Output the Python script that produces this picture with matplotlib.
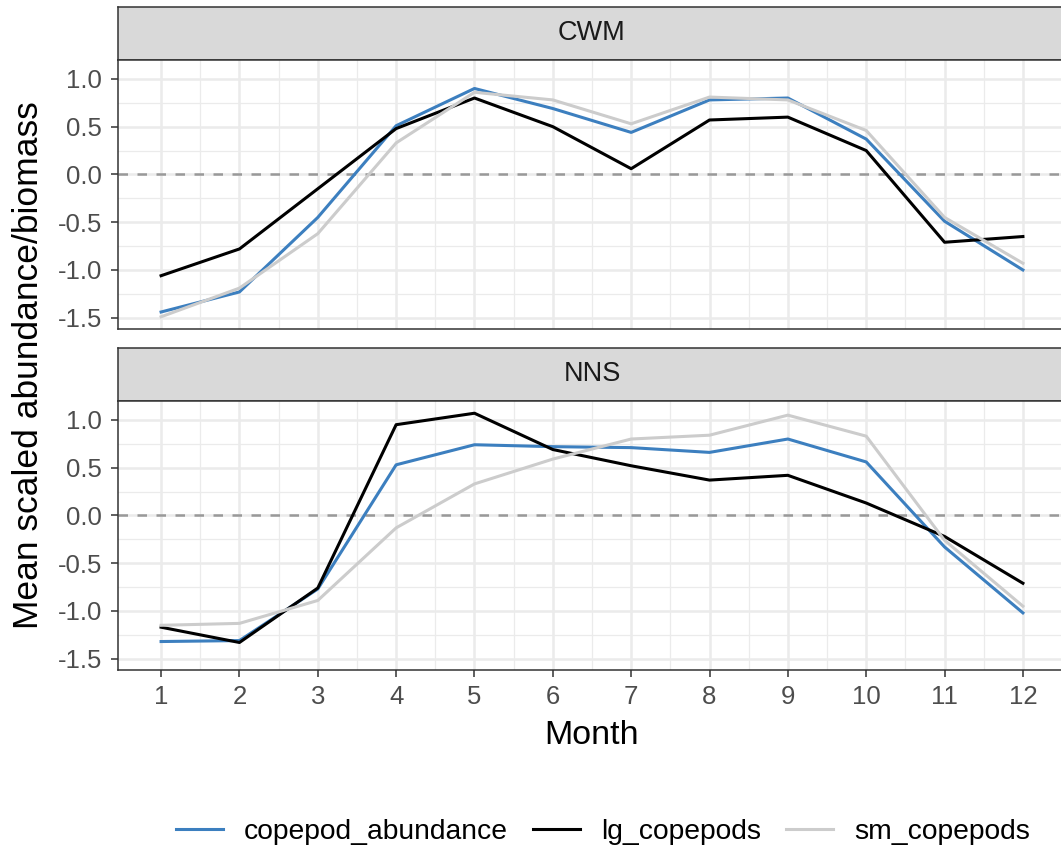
import matplotlib
matplotlib.use("Agg")
import matplotlib.pyplot as plt
import numpy as np

plt.rcParams["font.family"] = ["Liberation Sans", "DejaVu Sans"]

months = list(range(1, 13))
series = ["copepod_abundance", "lg_copepods", "sm_copepods"]
colors = {"copepod_abundance": "#3C7FBF", "lg_copepods": "#000000", "sm_copepods": "#CCCCCC"}

# values
cwm_abundance = [-1.44, -1.23, -0.45, 0.51, 0.90, 0.69, 0.44, 0.78, 0.80, 0.37, -0.49, -1.00]
cwm_lg = [-1.06, -0.78, -0.15, 0.48, 0.80, 0.50, 0.06, 0.57, 0.60, 0.25, -0.71, -0.65]
cwm_sm = [-1.49, -1.19, -0.62, 0.33, 0.86, 0.78, 0.53, 0.81, 0.78, 0.46, -0.45, -0.93]

nns_abundance = [-1.32, -1.31, -0.77, 0.53, 0.74, 0.72, 0.71, 0.66, 0.80, 0.56, -0.33, -1.02]
nns_lg = [-1.17, -1.33, -0.76, 0.95, 1.07, 0.69, 0.52, 0.37, 0.42, 0.13, -0.22, -0.71]
nns_sm = [-1.15, -1.13, -0.89, -0.13, 0.33, 0.59, 0.80, 0.84, 1.05, 0.83, -0.26, -0.95]

panels = [
    ("CWM", [cwm_abundance, cwm_lg, cwm_sm]),
    ("NNS", [nns_abundance, nns_lg, nns_sm]),
]

W, H = 1061, 850
fig = plt.figure(figsize=(W / 100, H / 100), dpi=100)

def px_axes(left, top, right, bottom):
    return fig.add_axes([left / W, 1 - bottom / H, (right - left) / W, (bottom - top) / H])

dark = "#333333"
layout = [(7, 60, 329), (348, 401, 670)]
all_vals = np.concatenate([np.ravel(v) for _, v in panels])
lo, hi = all_vals.min(), all_vals.max()
pad = (hi - lo) * 0.05

for i, ((name, vals), (st, pt, pb)) in enumerate(zip(panels, layout)):
    strip = px_axes(118, st, 1066, pt)
    strip.set_facecolor("#D9D9D9")
    strip.set_xticks([])
    strip.set_yticks([])
    for s in strip.spines.values():
        s.set_color(dark)
        s.set_linewidth(1.1)
    strip.text(0.5, 0.5, name, ha="center", va="center", fontsize=19.5, color="#1A1A1A",
               transform=strip.transAxes)

    ax = px_axes(118, pt, 1066, pb)
    ax.set_xlim(0.45, 12.55)
    ax.set_ylim(lo - pad, hi + pad)
    ax.set_xticks(months)
    ax.set_xticks(np.arange(1.5, 12, 1), minor=True)
    ax.set_yticks([-1.5, -1.0, -0.5, 0.0, 0.5, 1.0])
    ax.set_yticks(np.arange(-1.25, 1.1, 0.5), minor=True)
    ax.grid(which="major", color="#EBEBEB", lw=1.8)
    ax.grid(which="minor", color="#EBEBEB", lw=0.9)
    ax.set_axisbelow(True)
    ax.axhline(0, color="#999999", lw=1.8, ls=(0, (3.8, 3.8)), zorder=1.5)
    for key, v in zip(series, vals):
        ax.plot(months, v, color=colors[key], lw=2.2, label=key, zorder=2)
    for s in ax.spines.values():
        s.set_color(dark)
        s.set_linewidth(1.1)
    ax.yaxis.set_major_formatter(matplotlib.ticker.FormatStrFormatter("%.1f"))
    ax.tick_params(which="major", length=5, width=1.1, color=dark, labelcolor="#4D4D4D",
                   labelsize=18.5)
    ax.tick_params(axis="y", pad=6.5)
    ax.tick_params(axis="x", pad=6)
    ax.tick_params(which="minor", length=0)
    if i == 0:
        ax.tick_params(axis="x", which="major", length=0, labelbottom=False)
        handles, labels = ax.get_legend_handles_labels()

fig.text(29 / W, 1 - 365 / H, "Mean scaled abundance/biomass", rotation=90,
         ha="center", va="center", fontsize=25.5)
fig.text(592 / W, 1 - 736 / H, "Month", ha="center", va="center", fontsize=24.5)

fig.legend(handles, labels, loc="center", bbox_to_anchor=(603 / W, 1 - 832 / H), ncol=3,
           frameon=False, fontsize=20.3, handlelength=1.65, handletextpad=0.75,
           columnspacing=0.9)

fig.savefig("out.png", dpi=100)
